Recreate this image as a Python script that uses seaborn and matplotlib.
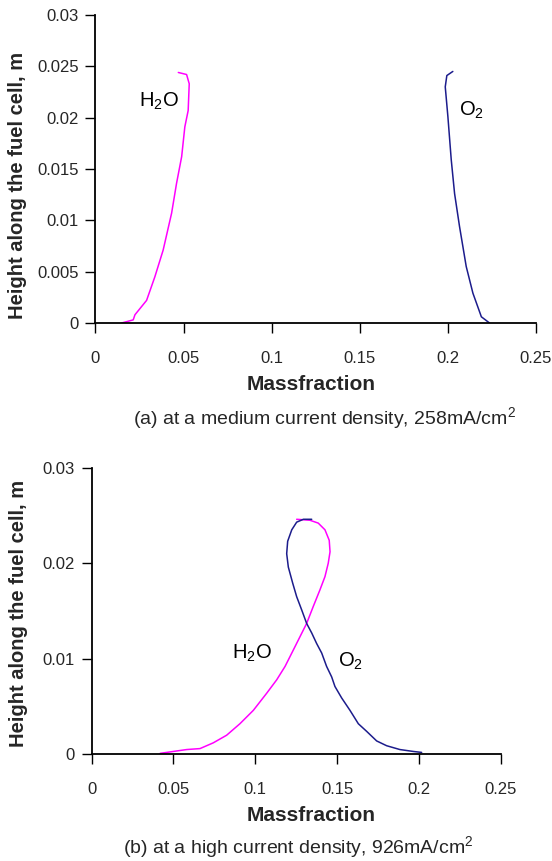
import matplotlib
matplotlib.use("Agg")
import matplotlib.pyplot as plt
import seaborn as sns
import pandas as pd

# ---- data ----
# Panel (a): medium current density, 258 mA/cm2
h2o_a_mass = [0.0149, 0.0214, 0.0224, 0.0290, 0.0337, 0.0384, 0.0432, 0.0460, 0.0489, 0.0507, 0.0526, 0.0532, 0.0517, 0.0470]
h2o_a_height = [0.0000, 0.0003, 0.0008, 0.0022, 0.0045, 0.0071, 0.0107, 0.0136, 0.0162, 0.0191, 0.0207, 0.0233, 0.0242, 0.0244]
o2_a_mass = [0.2236, 0.2190, 0.2142, 0.2104, 0.2066, 0.2038, 0.2019, 0.2000, 0.1985, 0.1994, 0.2028]
o2_a_height = [0.0000, 0.0006, 0.0029, 0.0055, 0.0094, 0.0126, 0.0159, 0.0201, 0.0230, 0.0241, 0.0245]

# Panel (b): high current density, 926 mA/cm2
h2o_b_mass = [0.0418, 0.0499, 0.0581, 0.0662, 0.0743, 0.0825, 0.0906, 0.0988, 0.1070, 0.1131,
              0.1182, 0.1232, 0.1273, 0.1314, 0.1355, 0.1395, 0.1426, 0.1446, 0.1457, 0.1452,
              0.1426, 0.1385, 0.1334, 0.1253]
h2o_b_height = [0.0001, 0.0003, 0.0005, 0.0006, 0.0012, 0.0020, 0.0032, 0.0046, 0.0064, 0.0078,
                0.0092, 0.0109, 0.0123, 0.0137, 0.0155, 0.0172, 0.0186, 0.0200, 0.0212, 0.0224,
                0.0235, 0.0242, 0.0245, 0.0246]
o2_b_mass = [0.2017, 0.1966, 0.1884, 0.1803, 0.1742, 0.1681, 0.1630, 0.1579, 0.1528, 0.1487,
             0.1467, 0.1436, 0.1406, 0.1375, 0.1345, 0.1314, 0.1284, 0.1253, 0.1229, 0.1202,
             0.1192, 0.1198, 0.1223, 0.1253, 0.1294, 0.1345]
o2_b_height = [0.0002, 0.0003, 0.0005, 0.0009, 0.0014, 0.0024, 0.0032, 0.0046, 0.0059, 0.0071,
               0.0081, 0.0092, 0.0106, 0.0116, 0.0127, 0.0137, 0.0151, 0.0165, 0.0179, 0.0196,
               0.0210, 0.0223, 0.0235, 0.0243, 0.0246, 0.0246]

species = ["H$_2$O", "O$_2$"]
x_ticks = [0, 0.05, 0.1, 0.15, 0.2, 0.25]
x_ticklabels = ["0", "0.05", "0.1", "0.15", "0.2", "0.25"]
y_ticks_a = [0, 0.005, 0.01, 0.015, 0.02, 0.025, 0.03]
y_ticklabels_a = ["0", "0.005", "0.01", "0.015", "0.02", "0.025", "0.03"]
y_ticks_b = [0, 0.01, 0.02, 0.03]
y_ticklabels_b = ["0", "0.01", "0.02", "0.03"]
captions = ["(a) at a medium current density, 258mA/cm$^2$",
            "(b) at a high current density, 926mA/cm$^2$"]
xlabel = "Massfraction"
ylabel = "Height along the fuel cell, m"

# ---- style ----
sns.set_style("ticks")
plt.rcParams["font.family"] = ["Liberation Sans", "DejaVu Sans"]
plt.rcParams["mathtext.fontset"] = "custom"
plt.rcParams["mathtext.rm"] = "Liberation Sans"
plt.rcParams["mathtext.it"] = "Liberation Sans:italic"
plt.rcParams["mathtext.bf"] = "Liberation Sans:bold"

palette = {species[0]: "#ff00ff", species[1]: "#1c1c8c"}


def make_df(hm, hh, om, oh):
    d1 = pd.DataFrame({"mass": hm, "height": hh, "species": species[0]})
    d2 = pd.DataFrame({"mass": om, "height": oh, "species": species[1]})
    return pd.concat([d1, d2], ignore_index=True)


df_a = make_df(h2o_a_mass, h2o_a_height, o2_a_mass, o2_a_height)
df_b = make_df(h2o_b_mass, h2o_b_height, o2_b_mass, o2_b_height)

fig = plt.figure(figsize=(5.52, 8.61), dpi=100)
ax_a = fig.add_axes([0.1730, 0.6249, 0.7980, 0.3577])
ax_b = fig.add_axes([0.1661, 0.1239, 0.7409, 0.3329])

panels = [
    (ax_a, df_a, y_ticks_a, y_ticklabels_a,
     [(0.0360, 0.0216, species[0]), (0.2133, 0.0207, species[1])],
     (0.177, 0.445), (0.489, -0.201), (0.587, 1 - 418 / 861), captions[0]),
    (ax_b, df_b, y_ticks_b, y_ticklabels_b,
     [(0.0978, 0.0106, species[0]), (0.1579, 0.0097, species[1])],
     (0.180, 0.490), (0.536, -0.215), (0.540, 1 - 847 / 861), captions[1]),
]

for ax, df, yt, ytl, labels, ylab_pos, xlab_pos, cap_pos, cap in panels:
    sns.lineplot(data=df, x="mass", y="height", hue="species", units="species",
                 estimator=None, sort=False, palette=palette, linewidth=1.1,
                 legend=False, ax=ax)
    ax.set_xlim(0, 0.25)
    ax.set_ylim(0, 0.03)
    ax.set_xticks(x_ticks)
    ax.set_xticklabels(x_ticklabels)
    ax.set_yticks(yt)
    ax.set_yticklabels(ytl)
    ax.tick_params(axis="both", labelsize=12, length=7, width=1.0, color="black", direction="out")
    ax.tick_params(axis="x", pad=13)
    ax.tick_params(axis="y", pad=5)
    for s in ["top", "right"]:
        ax.spines[s].set_visible(False)
    for s in ["left", "bottom"]:
        ax.spines[s].set_color("black")
        ax.spines[s].set_linewidth(1.3)
    ax.set_xlabel(xlabel, fontsize=15, fontweight="bold", va="center")
    ax.xaxis.set_label_coords(xlab_pos[0], xlab_pos[1])
    ax.set_ylabel(ylabel, fontsize=14.5, fontweight="bold", va="center")
    ax.yaxis.set_label_coords(-ylab_pos[0], ylab_pos[1])
    for x, y, t in labels:
        ax.text(x, y, t, fontsize=14.5, ha="center", va="center", color="black")
    ax.patch.set_alpha(0)
    fig.text(cap_pos[0], cap_pos[1], cap, fontsize=14, ha="center", va="center")

fig.savefig("out.png", dpi=100, facecolor="white")
